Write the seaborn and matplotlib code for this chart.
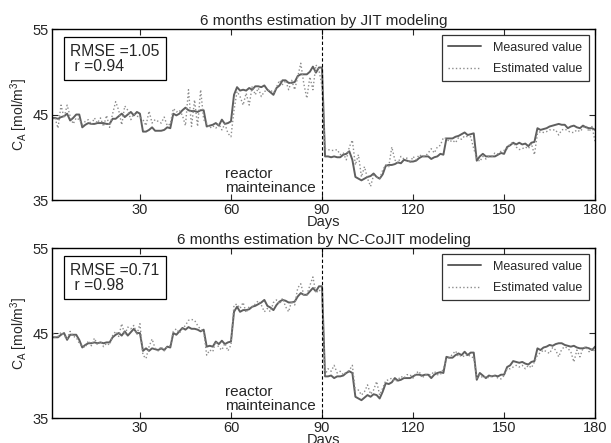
import numpy as np
import pandas as pd
import seaborn as sns
import matplotlib
matplotlib.use('Agg')
import matplotlib.pyplot as plt

# Dias de amostragem
dias = np.arange(1, 181)

# JIT - valores medidos e estimados
jit_medido = [
    44.6, 44.6, 44.5, 44.7, 44.8, 45.1, 44.3, 44.6, 45.0, 45.0,
    43.5, 43.8, 44.0, 43.9, 43.9, 44.0, 44.0, 44.0, 43.9, 43.9,
    44.5, 44.5, 44.8, 45.1, 44.7, 45.0, 45.3, 44.9, 45.3, 45.1,
    43.0, 43.0, 43.2, 43.5, 43.1, 43.1, 43.1, 43.2, 43.5, 43.4,
    45.1, 44.9, 45.1, 45.5, 45.8, 45.5, 45.4, 45.4, 45.3, 45.5,
    45.5, 43.6, 43.7, 43.8, 44.0, 43.7, 44.4, 43.9, 44.0, 44.2,
    47.3, 48.2, 47.8, 47.9, 47.8, 48.1, 47.9, 48.3, 48.3, 48.2,
    48.4, 47.9, 47.6, 47.3, 48.1, 48.4, 49.0, 49.0, 48.7, 48.7,
    48.8, 49.5, 49.7, 49.7, 49.7, 50.0, 50.6, 49.9, 50.5, 50.5,
    40.1, 40.1, 40.0, 40.1, 40.0, 40.0, 40.3, 40.4, 40.7, 39.7,
    37.7, 37.5, 37.3, 37.5, 37.7, 37.8, 38.1, 37.7, 37.5, 38.0,
    39.0, 39.1, 39.1, 39.2, 39.4, 39.3, 39.7, 39.6, 39.5, 39.5,
    39.6, 39.9, 40.1, 40.1, 40.1, 39.8, 40.0, 40.1, 40.4, 40.3,
    42.2, 42.2, 42.2, 42.4, 42.5, 42.7, 42.9, 42.6, 42.7, 42.8,
    39.6, 40.1, 40.4, 40.1, 40.1, 40.1, 40.1, 40.3, 40.5, 40.4,
    41.2, 41.4, 41.7, 41.5, 41.7, 41.5, 41.6, 41.3, 41.7, 41.8,
    43.4, 43.2, 43.3, 43.4, 43.6, 43.7, 43.8, 43.9, 43.8, 43.8,
    43.4, 43.6, 43.7, 43.5, 43.4, 43.7, 43.5, 43.4, 43.4, 43.2,
]
jit_estimado = [
    44.4, 44.6, 43.4, 46.1, 44.6, 46.1, 44.8, 43.9, 44.6, 44.4,
    43.8, 44.2, 44.4, 43.8, 44.6, 44.0, 44.6, 43.6, 44.9, 43.5,
    45.1, 46.5, 45.5, 43.8, 46.0, 45.5, 44.4, 45.1, 44.8, 44.7,
    44.4, 43.7, 45.4, 44.0, 44.4, 44.2, 44.0, 44.7, 43.7, 43.9,
    45.7, 45.3, 45.5, 44.9, 43.7, 47.9, 43.6, 46.7, 43.6, 47.9,
    44.4, 44.0, 43.4, 43.7, 43.4, 43.9, 43.2, 43.9, 42.8, 42.4,
    45.5, 47.7, 47.1, 46.1, 47.5, 46.1, 48.3, 47.3, 48.1, 47.1,
    47.7, 47.8, 47.9, 47.5, 48.2, 49.0, 48.5, 49.0, 47.9, 49.0,
    47.9, 49.4, 51.0, 48.6, 46.9, 49.4, 47.9, 50.8, 50.2, 48.3,
    41.0, 40.9, 40.8, 40.8, 40.9, 40.3, 40.5, 39.7, 41.2, 42.0,
    39.1, 40.3, 37.7, 38.9, 37.5, 36.6, 37.9, 37.7, 37.5, 38.5,
    39.1, 38.9, 41.2, 39.7, 39.3, 40.1, 39.8, 39.9, 39.3, 40.1,
    39.7, 40.3, 40.1, 40.1, 40.5, 41.0, 40.5, 41.2, 41.4, 42.3,
    42.2, 41.8, 42.0, 41.7, 42.3, 42.1, 42.5, 42.4, 42.4, 41.0,
    39.9, 39.5, 40.1, 39.8, 40.1, 40.1, 40.5, 40.4, 40.7, 40.8,
    41.0, 41.6, 41.7, 41.2, 40.9, 41.0, 41.2, 41.0, 41.6, 40.3,
    42.8, 43.0, 42.9, 43.0, 43.2, 43.2, 43.2, 42.6, 43.2, 43.3,
    43.1, 42.9, 42.9, 43.2, 43.0, 43.4, 43.7, 43.0, 43.6, 41.8,
]

# NC-CoJIT - valores medidos e estimados
cojit_medido = [
    44.5, 44.5, 44.5, 44.8, 45.0, 44.2, 44.8, 44.8, 44.8, 44.2,
    43.3, 43.6, 43.8, 43.8, 43.9, 43.8, 43.9, 43.8, 43.9, 43.9,
    44.5, 44.8, 45.0, 44.7, 45.2, 44.7, 45.1, 45.5, 45.0, 45.0,
    42.9, 43.2, 42.9, 43.2, 43.1, 43.0, 43.2, 43.0, 43.4, 43.3,
    45.0, 44.8, 45.2, 45.6, 45.4, 45.7, 45.5, 45.5, 45.4, 45.2,
    45.4, 43.4, 43.5, 43.4, 44.0, 43.7, 44.1, 43.7, 43.9, 44.0,
    47.5, 48.1, 47.5, 47.7, 47.7, 47.8, 48.1, 48.2, 48.4, 48.6,
    48.9, 48.2, 48.0, 47.7, 48.3, 48.7, 48.9, 48.8, 48.6, 48.6,
    48.7, 49.3, 49.7, 49.5, 49.5, 49.9, 50.3, 49.9, 50.5, 50.5,
    39.9, 39.9, 40.0, 39.7, 39.9, 39.9, 40.0, 40.3, 40.5, 40.3,
    37.5, 37.3, 37.1, 37.4, 37.7, 37.5, 37.8, 37.7, 37.3, 38.1,
    39.1, 39.0, 39.2, 39.7, 39.4, 39.5, 39.7, 39.7, 39.7, 39.9,
    40.1, 40.1, 40.0, 40.1, 40.1, 39.7, 40.1, 40.3, 40.4, 40.3,
    42.2, 42.1, 42.1, 42.4, 42.6, 42.4, 42.8, 42.4, 42.7, 42.7,
    39.5, 40.3, 40.0, 39.7, 40.0, 39.9, 40.0, 39.9, 40.1, 40.1,
    41.0, 41.2, 41.7, 41.6, 41.5, 41.6, 41.4, 41.3, 41.6, 41.7,
    43.2, 43.0, 43.3, 43.4, 43.6, 43.5, 43.7, 43.8, 43.8, 43.6,
    43.5, 43.4, 43.5, 43.3, 43.2, 43.2, 43.3, 43.2, 43.0, 43.4,
]
cojit_estimado = [
    45.4, 44.5, 44.6, 45.1, 44.7, 44.3, 45.2, 44.6, 44.5, 43.8,
    43.4, 43.3, 44.1, 43.5, 44.4, 43.6, 44.0, 43.4, 43.8, 43.6,
    44.7, 45.2, 44.6, 46.1, 44.8, 45.7, 45.5, 45.9, 44.8, 46.1,
    42.4, 42.0, 43.4, 44.3, 43.2, 42.9, 43.4, 42.9, 43.4, 43.5,
    45.2, 45.5, 45.0, 45.5, 45.9, 46.5, 46.6, 46.5, 45.9, 45.4,
    45.2, 42.4, 43.0, 42.8, 44.0, 43.3, 43.0, 43.8, 42.9, 43.6,
    48.3, 48.4, 47.9, 48.6, 47.4, 48.1, 48.1, 48.4, 48.8, 48.3,
    47.5, 47.9, 47.5, 48.6, 48.9, 48.4, 49.1, 48.1, 47.5, 48.8,
    48.3, 50.3, 50.8, 49.5, 49.5, 50.6, 51.6, 49.7, 50.1, 49.7,
    40.1, 40.8, 40.5, 41.2, 40.3, 40.5, 40.1, 40.4, 40.6, 41.2,
    38.1, 38.3, 37.7, 38.1, 38.9, 37.8, 38.3, 39.3, 37.7, 38.5,
    39.4, 39.5, 39.7, 39.3, 39.5, 39.9, 39.7, 40.1, 40.1, 39.7,
    40.3, 40.5, 39.7, 40.1, 40.1, 40.1, 40.5, 40.1, 40.1, 40.8,
    41.9, 42.1, 42.5, 42.9, 42.2, 42.4, 42.2, 42.5, 42.2, 42.1,
    39.7, 40.1, 39.7, 39.9, 39.7, 40.0, 39.9, 39.7, 39.6, 40.0,
    40.8, 40.8, 41.0, 41.2, 41.0, 41.2, 40.8, 41.2, 40.9, 41.6,
    42.4, 42.7, 43.0, 42.8, 42.6, 43.3, 43.0, 42.2, 43.1, 43.4,
    43.2, 42.8, 41.6, 43.0, 42.2, 43.2, 43.4, 42.8, 43.2, 42.8,
]

titulos = ['6 months estimation by JIT modeling', '6 months estimation by NC-CoJIT modeling']
metricas = ['RMSE =1.05\n r =0.94', 'RMSE =0.71\n r =0.98']
medidos = [jit_medido, cojit_medido]
estimados = [jit_estimado, cojit_estimado]
x_ticks = [30, 60, 90, 120, 150, 180]
y_ticks = [35, 45, 55]

sns.set_style('ticks')
plt.rcParams['font.family'] = ['Liberation Sans', 'DejaVu Sans']
plt.rcParams['mathtext.fontset'] = 'custom'
plt.rcParams['mathtext.rm'] = 'Liberation Sans'
plt.rcParams['mathtext.it'] = 'Liberation Sans'

fig = plt.figure(figsize=(6.11, 4.43), dpi=100)
posicoes = [[0.085, 0.5485, 0.889, 0.386], [0.085, 0.0564, 0.889, 0.3836]]

for i in range(2):
    ax = fig.add_axes(posicoes[i])
    dados = pd.DataFrame({'dia': dias, 'medido': medidos[i], 'estimado': estimados[i]})
    sns.lineplot(data=dados, x='dia', y='medido', ax=ax, color='#5f5f5f', linewidth=1.4,
                 label='Measured value')
    sns.lineplot(data=dados, x='dia', y='estimado', ax=ax, color='#8c8c8c', linewidth=1.0,
                 linestyle=':', label='Estimated value')
    ax.axvline(90, color='black', linestyle='--', linewidth=0.8, dashes=(3, 2))
    ax.set_xlim(1, 180)
    ax.set_ylim(35, 55)
    ax.set_xticks(x_ticks)
    ax.set_yticks(y_ticks)
    ax.tick_params(direction='in', top=True, right=True, labelsize=10.5, length=4, width=0.8, pad=2)
    for s in ax.spines.values():
        s.set_linewidth(1.0)
        s.set_color('black')
    ax.set_title(titulos[i], fontsize=11, pad=3)
    ax.set_xlabel('Days', fontsize=10.5, labelpad=-1.5)
    ax.set_ylabel(r'C$_A$ [mol/m$^3$]', fontsize=10, labelpad=2)
    ax.text(0.034, 0.915, metricas[i], transform=ax.transAxes, fontsize=11.3, va='top', ha='left',
            linespacing=1.0,
            bbox=dict(boxstyle='square,pad=0.4', facecolor='white', edgecolor='black', linewidth=0.9))
    ax.text(58, 35.6, 'reactor\nmainteinance', fontsize=11, ha='left', va='bottom', linespacing=1.0)
    leg = ax.legend(loc='upper right', fontsize=9, frameon=True, fancybox=False, edgecolor='black',
                    handlelength=2.6, handletextpad=1.0, borderpad=0.5, labelspacing=0.75,
                    borderaxespad=0.5)
    leg.get_frame().set_linewidth(0.9)

fig.savefig('out.png', dpi=100)
